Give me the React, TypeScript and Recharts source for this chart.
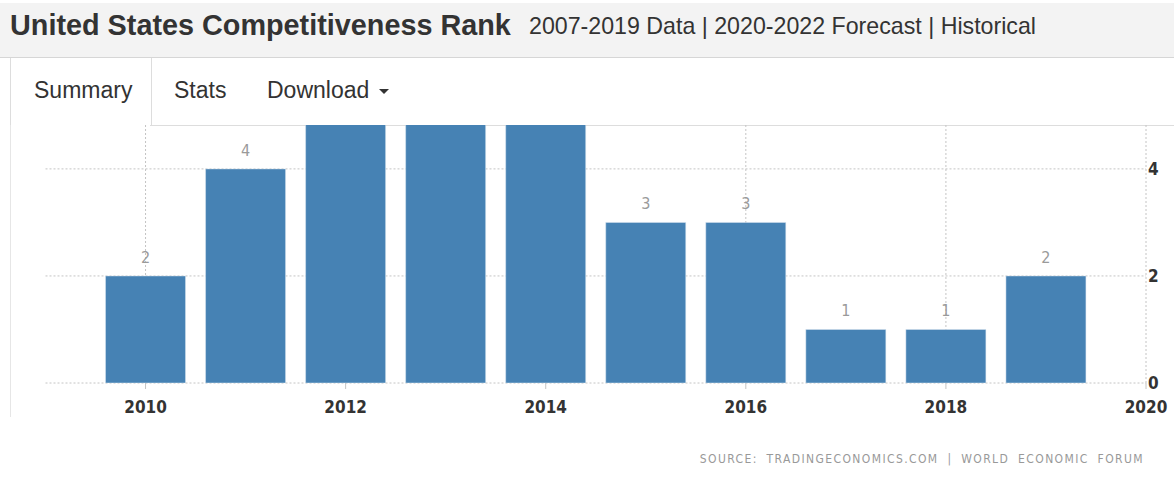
import React from "react";
import { BarChart, Bar, XAxis, YAxis, CartesianGrid, LabelList } from "recharts";

const years = [2010, 2011, 2012, 2013, 2014, 2015, 2016, 2017, 2018, 2019];
const ranks = [2, 4, 5, 7, 5, 3, 3, 1, 1, 2];
const xTicks = [2010, 2012, 2014, 2016, 2018, 2020];
const yTicks = [0, 2, 4];
const yMax = 4.82;

const data = years.map((year, i) => ({ year, rank: ranks[i] }));

const tickFont = "'DejaVu Sans Condensed', 'DejaVu Sans', sans-serif";

const renderLabel = (props: any) => {
  const { x, y, width, value } = props;
  if (value > yMax) return null;
  return (
    <text
      x={Number(x) + Number(width) / 2}
      y={Number(y) - 13}
      textAnchor="middle"
      fill="#9a9a9a"
      fontSize={16}
      fontFamily={tickFont}
    >
      {value}
    </text>
  );
};

const verticalGen = (props: any) => {
  const axis = props?.xAxis || {};
  const scale = axis.scale;
  if (typeof scale === "function") return xTicks.map((t) => scale(t));
  if (scale && typeof scale.map === "function") return xTicks.map((t) => scale.map(t));
  if (scale && typeof scale.scale === "function") return xTicks.map((t) => scale.scale(t));
  const ticks = axis.ticks || [];
  return ticks
    .filter((tk: any) => xTicks.includes(Number(tk.value)))
    .map((tk: any) => tk.coordinate);
};

export default function App() {
  return (
    <div
      style={{
        position: "absolute",
        left: 0,
        top: 0,
        width: 1174,
        height: 483,
        background: "#fff",
        fontFamily: "'Liberation Sans', Arial, sans-serif",
        overflow: "hidden",
      }}
    >
      {/* title band */}
      <div
        style={{
          position: "absolute",
          left: 0,
          top: 3,
          width: 1174,
          height: 54,
          background: "#f3f3f3",
          borderBottom: "1px solid #d6d6d6",
        }}
      />
      <div
        style={{
          position: "absolute",
          left: 10,
          top: 8,
          fontSize: 28.8,
          fontWeight: "bold",
          color: "#333",
          whiteSpace: "nowrap",
          lineHeight: "34px",
        }}
      >
        United States Competitiveness Rank
      </div>
      <div
        style={{
          position: "absolute",
          left: 529,
          top: 11,
          fontSize: 23.2,
          color: "#333",
          whiteSpace: "nowrap",
          lineHeight: "30px",
        }}
      >
        2007-2019 Data | 2020-2022 Forecast | Historical
      </div>
      {/* tabs */}
      <div
        style={{
          position: "absolute",
          left: 10,
          top: 58,
          width: 140,
          height: 68,
          borderLeft: "1px solid #ddd",
          borderRight: "1px solid #ddd",
          background: "#fff",
        }}
      />
      <div style={{ position: "absolute", left: 150, top: 125, width: 1024, height: 1, background: "#ddd" }} />
      <div style={{ position: "absolute", left: 10, top: 125, width: 1, height: 292, background: "#e6e6e6" }} />
      <div style={{ position: "absolute", left: 34, top: 76, fontSize: 23, color: "#333", lineHeight: "28px" }}>Summary</div>
      <div style={{ position: "absolute", left: 174, top: 76, fontSize: 23, color: "#333", lineHeight: "28px" }}>Stats</div>
      <div style={{ position: "absolute", left: 267, top: 76, fontSize: 23, color: "#333", lineHeight: "28px", whiteSpace: "nowrap" }}>
        Download
        <span
          style={{
            display: "inline-block",
            marginLeft: 10,
            width: 0,
            height: 0,
            borderLeft: "5px solid transparent",
            borderRight: "5px solid transparent",
            borderTop: "5px solid #333",
            verticalAlign: "middle",
          }}
        />
      </div>
      {/* chart */}
      <div style={{ position: "absolute", left: 0, top: 125 }}>
        <BarChart
          width={1174}
          height={298}
          data={data}
          margin={{ top: 0, right: 0, left: 45.5, bottom: 0 }}
        >
          <CartesianGrid
            stroke="#c4c4c4"
            strokeDasharray="2 2"
            syncWithTicks
            verticalCoordinatesGenerator={verticalGen}
          />
          <XAxis
            dataKey="year"
            type="number"
            domain={[2009, 2020]}
            ticks={xTicks}
            axisLine={false}
            tickSize={6}
            tickLine={{ stroke: "#c4c4c4" }}
            tickMargin={12}
            height={40}
            tick={{ fill: "#333", fontSize: 17, fontWeight: "bold", fontFamily: tickFont }}
            interval={0}
          />
          <YAxis
            orientation="right"
            width={28}
            domain={[0, yMax]}
            ticks={yTicks}
            allowDataOverflow
            axisLine={false}
            tickLine={false}
            tickSize={0}
            tickMargin={2}
            tick={{ fill: "#333", fontSize: 17, fontWeight: "bold", fontFamily: tickFont }}
          />
          <Bar dataKey="rank" fill="#4682b4" stroke="#dbe6f0" strokeWidth={0.5} barSize={80} isAnimationActive={false}>
            <LabelList dataKey="rank" content={renderLabel} />
          </Bar>
        </BarChart>
      </div>
      <div
        style={{
          position: "absolute",
          right: 30,
          top: 452,
          fontSize: 12,
          color: "#999",
          letterSpacing: 1.4,
          wordSpacing: 4,
          fontFamily: "'DejaVu Sans Condensed', 'DejaVu Sans', sans-serif",
          whiteSpace: "nowrap",
        }}
      >
        SOURCE: TRADINGECONOMICS.COM | WORLD ECONOMIC FORUM
      </div>
    </div>
  );
}
